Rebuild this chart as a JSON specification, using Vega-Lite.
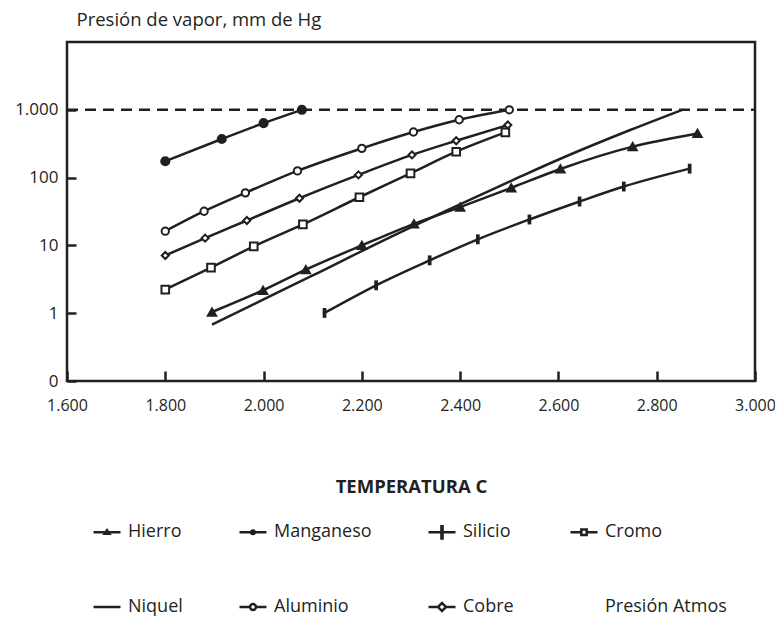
{
  "$schema": "https://vega.github.io/schema/vega-lite/v6.json",
  "width": 688,
  "height": 339,
  "autosize": {"type": "none"},
  "padding": {"left": 67, "top": 42, "right": 20, "bottom": 236},
  "background": "white",
  "data": {
    "values": [
      {"serie": "Presión Atmos", "t": 1600, "p": 1000},
      {"serie": "Presión Atmos", "t": 3000, "p": 1000},
      {"serie": "Hierro", "t": 1895, "p": 1.04},
      {"serie": "Hierro", "t": 1999, "p": 2.18},
      {"serie": "Hierro", "t": 2086, "p": 4.39},
      {"serie": "Hierro", "t": 2200, "p": 10},
      {"serie": "Hierro", "t": 2306, "p": 20.8},
      {"serie": "Hierro", "t": 2400, "p": 36.6},
      {"serie": "Hierro", "t": 2504, "p": 70.6},
      {"serie": "Hierro", "t": 2604, "p": 134},
      {"serie": "Hierro", "t": 2751, "p": 286},
      {"serie": "Hierro", "t": 2883, "p": 448},
      {"serie": "Manganeso", "t": 1800, "p": 174},
      {"serie": "Manganeso", "t": 1915, "p": 371},
      {"serie": "Manganeso", "t": 2000, "p": 635},
      {"serie": "Manganeso", "t": 2078, "p": 1000},
      {"serie": "Silicio", "t": 2124, "p": 1.01},
      {"serie": "Silicio", "t": 2229, "p": 2.58},
      {"serie": "Silicio", "t": 2338, "p": 6.02},
      {"serie": "Silicio", "t": 2436, "p": 12.3},
      {"serie": "Silicio", "t": 2541, "p": 24.1},
      {"serie": "Silicio", "t": 2643, "p": 44.4},
      {"serie": "Silicio", "t": 2733, "p": 73.8},
      {"serie": "Silicio", "t": 2867, "p": 135.6},
      {"serie": "Cromo", "t": 1800, "p": 2.23},
      {"serie": "Cromo", "t": 1893, "p": 4.7},
      {"serie": "Cromo", "t": 1980, "p": 9.67},
      {"serie": "Cromo", "t": 2080, "p": 20.4},
      {"serie": "Cromo", "t": 2195, "p": 51.3},
      {"serie": "Cromo", "t": 2299, "p": 115.6},
      {"serie": "Cromo", "t": 2392, "p": 241},
      {"serie": "Cromo", "t": 2492, "p": 464},
      {"serie": "Niquel", "t": 1895, "p": 0.68},
      {"serie": "Niquel", "t": 2000, "p": 1.6},
      {"serie": "Niquel", "t": 2100, "p": 3.6},
      {"serie": "Niquel", "t": 2237, "p": 11.2},
      {"serie": "Niquel", "t": 2394, "p": 38.7},
      {"serie": "Niquel", "t": 2522, "p": 103},
      {"serie": "Niquel", "t": 2603, "p": 188},
      {"serie": "Niquel", "t": 2746, "p": 503},
      {"serie": "Niquel", "t": 2852, "p": 1000},
      {"serie": "Aluminio", "t": 1800, "p": 16.2},
      {"serie": "Aluminio", "t": 1879, "p": 31.9},
      {"serie": "Aluminio", "t": 1963, "p": 59.6},
      {"serie": "Aluminio", "t": 2069, "p": 125.5},
      {"serie": "Aluminio", "t": 2200, "p": 270},
      {"serie": "Aluminio", "t": 2305, "p": 470},
      {"serie": "Aluminio", "t": 2398, "p": 713},
      {"serie": "Aluminio", "t": 2500, "p": 1000},
      {"serie": "Cobre", "t": 1800, "p": 7.1},
      {"serie": "Cobre", "t": 1881, "p": 12.8},
      {"serie": "Cobre", "t": 1966, "p": 23.3},
      {"serie": "Cobre", "t": 2073, "p": 49.6},
      {"serie": "Cobre", "t": 2193, "p": 109.6},
      {"serie": "Cobre", "t": 2302, "p": 216},
      {"serie": "Cobre", "t": 2392, "p": 350},
      {"serie": "Cobre", "t": 2497, "p": 596}
    ]
  },
  "encoding": {
    "x": {
      "field": "t", "type": "quantitative",
      "scale": {"domain": [1600, 3000], "nice": false, "zero": false},
      "axis": {
        "values": [1600, 1800, 2000, 2200, 2400, 2600, 2800, 3000],
        "labelExpr": "replace(format(datum.value, ','), ',', '.')",
        "labelFlush": false,
        "labelFontSize": 16,
        "tickSize": -10,
        "labelPadding": 26,
        "title": "TEMPERATURA C",
        "titleFontWeight": "bold",
        "titleFontSize": 18.5,
        "titleY": 111,
        "titleBaseline": "alphabetic"
      }
    },
    "y": {
      "field": "p", "type": "quantitative",
      "scale": {"type": "log", "domain": [0.1, 10000], "nice": false},
      "axis": {
        "values": [0.1, 1, 10, 100, 1000],
        "labelExpr": "datum.value < 0.5 ? '0' : replace(format(datum.value, ','), ',', '.')",
        "tickSize": -9,
        "labelPadding": 18,
        "title": "Presión de vapor, mm de Hg",
        "titleFontWeight": "normal",
        "titleFontSize": 18.5,
        "titleAngle": 0,
        "titleAlign": "left",
        "titleBaseline": "alphabetic",
        "titleX": 9,
        "titleY": -17
      }
    }
  },
  "layer": [
    {
      "transform": [{"filter": "datum.serie == 'Presión Atmos'"}],
      "mark": {"type": "line", "color": "#231f20", "strokeWidth": 2.5, "strokeDash": [11, 7]},
      "encoding": {}
    },
    {
      "transform": [{"filter": "datum.serie != 'Presión Atmos'"}],
      "mark": {"type": "line", "color": "#231f20", "strokeWidth": 2.5, "interpolate": "monotone"},
      "encoding": {"detail": {"field": "serie"}}
    },
    {
      "transform": [{"filter": "datum.serie != 'Presión Atmos' && datum.serie != 'Niquel'"}],
      "mark": {"type": "point", "filled": true, "stroke": "#231f20", "strokeWidth": 2, "opacity": 1},
      "encoding": {
        "shape": {
          "field": "serie", "type": "nominal", "legend": null,
          "scale": {
            "domain": ["Hierro", "Manganeso", "Silicio", "Cromo", "Aluminio", "Cobre"],
            "range": ["triangle-up", "circle", "M-0.22,-1H0.22V1H-0.22Z", "square", "circle", "diamond"]
          }
        },
        "fill": {
          "field": "serie", "type": "nominal", "legend": null,
          "scale": {
            "domain": ["Hierro", "Manganeso", "Silicio", "Cromo", "Aluminio", "Cobre"],
            "range": ["#231f20", "#231f20", "#231f20", "white", "white", "white"]
          }
        },
        "size": {
          "field": "serie", "type": "nominal", "legend": null,
          "scale": {
            "domain": ["Hierro", "Manganeso", "Silicio", "Cromo", "Aluminio", "Cobre"],
            "range": [70, 50, 210, 60, 75, 100]
          }
        }
      }
    },
    {
      "transform": [{"filter": "datum.t < 0"}],
      "mark": {"type": "point", "filled": false, "color": "#231f20", "stroke": "#231f20", "strokeWidth": 2.5, "size": 729},
      "encoding": {
        "shape": {
          "field": "serie", "type": "nominal",
          "scale": {
            "domain": ["Hierro", "Manganeso", "Silicio", "Cromo", "Niquel", "Aluminio", "Cobre", "Presión Atmos"],
            "range": [
              "M0,-0.62H0M0,0.62H0M-1,0H1M-0.17,0.1L0,-0.15L0.17,0.1ZM-0.06,0.05H0.06",
              "M0,-0.62H0M0,0.62H0M-1,0H1M0.13,0A0.13,0.13 0 1,1 -0.13,0A0.13,0.13 0 1,1 0.13,0ZM0.04,0A0.04,0.04 0 1,1 -0.04,0A0.04,0.04 0 1,1 0.04,0Z",
              "M0,-0.62H0M0,0.62H0M-1,0H1M-0.04,-0.55V0.55M0.04,-0.55V0.55",
              "M0,-0.62H0M0,0.62H0M-1,0H-0.2M0.2,0H1M-0.2,-0.2H0.2V0.2H-0.2Z",
              "M0,-0.62H0M0,0.62H0M-1,0H1",
              "M0,-0.62H0M0,0.62H0M-1,0H-0.22M0.22,0H1M0.22,0A0.22,0.22 0 1,1 -0.22,0A0.22,0.22 0 1,1 0.22,0Z",
              "M0,-0.62H0M0,0.62H0M-1,0H-0.3M0.3,0H1M-0.3,0L0,-0.3L0.3,0L0,0.3Z",
              "M0,-0.62H0M0,0.62H0"
            ]
          },
          "legend": {
            "title": null,
            "orient": "none",
            "legendX": 25,
            "legendY": 475,
            "direction": "horizontal",
            "columns": 4,
            "columnPadding": 51,
            "rowPadding": 46,
            "symbolSize": 729,
            "symbolStrokeWidth": 2.5,
            "symbolStrokeColor": "#231f20",
            "symbolFillColor": "transparent",
            "symbolOpacity": 1,
            "labelFontSize": 18,
            "labelOffset": 6,
            "labelColor": "#231f20",
            "labelLimit": 300,
            "encode": {
              "symbols": {
                "update": {
                  "stroke": {"value": "#231f20"},
                  "strokeWidth": {"value": 2.5},
                  "fill": {"value": "transparent"},
                  "opacity": {"value": 1}
                }
              }
            }
          }
        }
      }
    }
  ],
  "resolve": {
    "scale": {"shape": "independent", "fill": "independent", "size": "independent"},
    "legend": {"shape": "independent"}
  },
  "config": {
    "font": "Open Sans",
    "view": {"stroke": "#231f20", "strokeWidth": 2.5},
    "axis": {
      "domain": false,
      "grid": false,
      "labelFont": "Open Sans",
      "labelFontSize": 17,
      "labelColor": "#231f20",
      "tickColor": "#231f20",
      "tickWidth": 2.5,
      "titleFont": "Open Sans",
      "titleColor": "#231f20"
    },
    "legend": {"labelFont": "Open Sans"}
  }
}
